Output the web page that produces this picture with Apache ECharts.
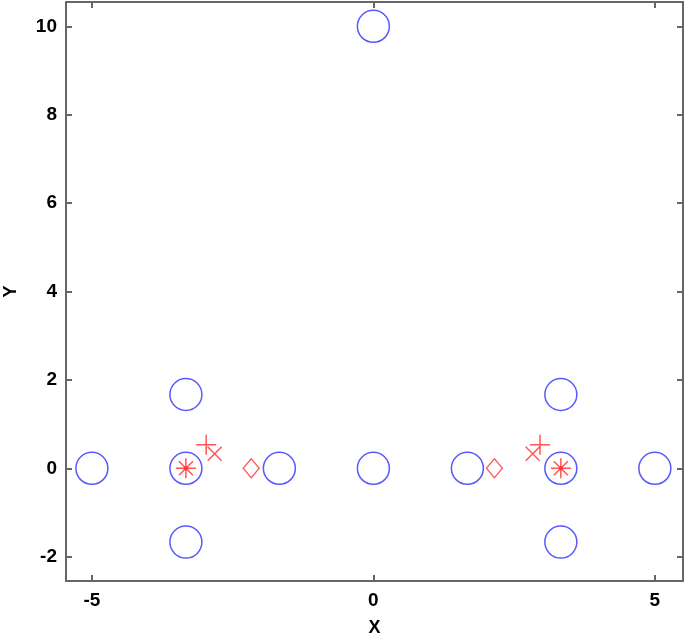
<!DOCTYPE html>
<html><head><meta charset="utf-8">
<script src="https://cdn.jsdelivr.net/npm/echarts@6/dist/echarts.min.js"></script>
<style>html,body{margin:0;padding:0;background:#fff}#c{width:685px;height:635px}</style>
</head><body><div id="c"></div>
<script>
const xTicks = [-5, 0, 5];
const yTicks = [-2, 0, 2, 4, 6, 8, 10];
const circlePts = [[-5,0],[-3.33,0],[-3.33,1.67],[-3.33,-1.67],[-1.67,0],[0,0],[1.67,0],[3.33,0],[3.33,1.67],[3.33,-1.67],[5,0],[0,10]];
const asteriskPts = [[-3.33,0],[3.33,0]];
const plusPts = [[-2.97,0.53],[2.96,0.53]];
const crossPts = [[-2.82,0.33],[2.83,0.33]];
const diamondPts = [[-2.17,0],[2.15,0]];

const red = '#ff2a2a';
const chart = echarts.init(document.getElementById('c'), null, {renderer:'canvas'});
const FF = 'Liberation Sans, Arial, sans-serif';
const lab = {color:'#000', fontSize:19, fontWeight:'bold', fontFamily:FF};
const axLine = {show:true, onZero:false, lineStyle:{color:'#666', width:2}};
const tick = {show:true, inside:true, length:6, lineStyle:{color:'#666', width:2}};
function lineSym(path){return 'path://' + path;}
chart.setOption({
  animation:false,
  backgroundColor:'#fff',
  grid:{left:66, right:2, top:2, bottom:54, containLabel:false, outerBoundsMode:'none'},
  xAxis:[{type:'value', min:-5.46, max:5.5, position:'bottom',
    axisLine:axLine, splitLine:{show:false},
    axisLabel:Object.assign({margin:10, customValues:xTicks}, lab),
    axisTick:Object.assign({customValues:xTicks}, tick),
    name:'X', nameLocation:'middle', nameGap:38, nameTextStyle:{color:'#000', fontSize:18, fontWeight:'bold', fontFamily:FF}},
    {type:'value', min:-5.46, max:5.5, position:'top',
    axisLine:axLine, axisTick:Object.assign({customValues:xTicks}, tick), axisLabel:{show:false}, splitLine:{show:false}}],
  yAxis:[{type:'value', min:-2.55, max:10.55, position:'left',
    axisLine:axLine, splitLine:{show:false},
    axisTick:Object.assign({customValues:yTicks}, tick),
    axisLabel:Object.assign({margin:9, customValues:yTicks}, lab),
    name:'Y', nameLocation:'middle', nameGap:46, nameTextStyle:{color:'#000', fontSize:18, fontWeight:'bold', fontFamily:FF}},
    {type:'value', min:-2.55, max:10.55, position:'right',
    axisLine:axLine, axisTick:Object.assign({customValues:yTicks}, tick), axisLabel:{show:false}, splitLine:{show:false}}],
  series:[
    {type:'scatter', data:circlePts, symbol:'circle', symbolSize:32,
      itemStyle:{color:'transparent', borderColor:'#3030ff', borderWidth:1.5}},
    {type:'scatter', data:asteriskPts, symbol:lineSym('M0,10L20,10M10,0L10,20M3,3L17,17M17,3L3,17'), symbolSize:20,
      itemStyle:{color:'transparent', borderColor:red, borderWidth:1.5}, z:3},
    {type:'scatter', data:asteriskPts, symbol:'circle', symbolSize:4,
      itemStyle:{color:red}, z:4},
    {type:'scatter', data:plusPts, symbol:lineSym('M0,10L20,10M10,0L10,20'), symbolSize:20,
      itemStyle:{color:'transparent', borderColor:red, borderWidth:1.5}, z:3},
    {type:'scatter', data:crossPts, symbol:lineSym('M0,0L14,14M14,0L0,14'), symbolSize:14,
      itemStyle:{color:'transparent', borderColor:red, borderWidth:1.5}, z:3},
    {type:'scatter', data:diamondPts, symbol:'diamond', symbolSize:[16,19],
      itemStyle:{color:'transparent', borderColor:red, borderWidth:1.3}, z:3}
  ]
});
</script></body></html>
